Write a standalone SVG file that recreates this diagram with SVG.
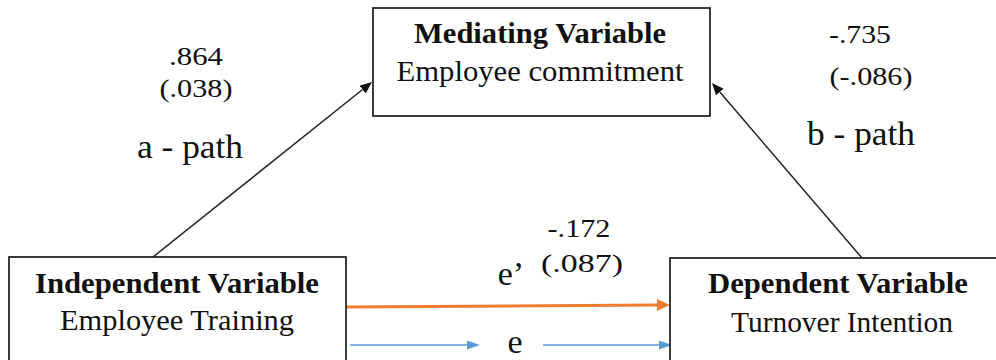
<svg xmlns="http://www.w3.org/2000/svg" width="996" height="360" viewBox="0 0 996 360">
<style>
.box{fill:#fff;stroke:#1a1a1a;stroke-width:1.7}
.t{font-family:'Liberation Serif','Times New Roman',serif;fill:#111;text-anchor:middle}
.b{font-weight:bold;font-size:28.5px}
.r{font-size:28.5px}
.n{font-size:26px}
.p{font-size:34px}
.blk{stroke:#222;stroke-width:1.5;fill:none}
.org{stroke:#ED7D31;stroke-width:3;fill:none}
.blu{stroke:#5B9BD5;stroke-width:1.6;fill:none}
</style>
<defs>
<marker id="ab" markerUnits="userSpaceOnUse" markerWidth="14" markerHeight="12" refX="0" refY="5" orient="auto"><path d="M0,0 L12,5 L0,10 z" fill="#111"/></marker>
<marker id="ao" markerUnits="userSpaceOnUse" markerWidth="15" markerHeight="13" refX="0" refY="6" orient="auto"><path d="M0,0 L13,6 L0,12 z" fill="#ED7D31"/></marker>
<marker id="al" markerUnits="userSpaceOnUse" markerWidth="15" markerHeight="11" refX="0" refY="4.5" orient="auto"><path d="M0,0 L13,4.5 L0,9 z" fill="#5B9BD5"/></marker>
</defs>
<g id="connectors">
<line class="blk" x1="153" y1="257" x2="362.6" y2="89.5" marker-end="url(#ab)"/>
<line class="blk" x1="862" y1="258" x2="719.8" y2="92.1" marker-end="url(#ab)"/>
<line class="org" x1="346" y1="307" x2="657" y2="305" marker-end="url(#ao)"/>
<line class="blu" x1="350" y1="345" x2="467" y2="345" marker-end="url(#al)"/>
<line class="blu" x1="543" y1="345" x2="659" y2="345" marker-end="url(#al)"/>
</g>
<g id="mediating">
<rect class="box" x="373" y="8" width="337" height="108"/>
<text class="t b" x="540" y="43" textLength="252" lengthAdjust="spacingAndGlyphs">Mediating Variable</text>
<text class="t r" x="540" y="81" textLength="287" lengthAdjust="spacingAndGlyphs">Employee commitment</text>
</g>
<g id="independent">
<rect class="box" x="9" y="257" width="337" height="120"/>
<text class="t b" x="177" y="293" textLength="284" lengthAdjust="spacingAndGlyphs">Independent Variable</text>
<text class="t r" x="177" y="330" textLength="234" lengthAdjust="spacingAndGlyphs">Employee Training</text>
</g>
<g id="dependent">
<rect class="box" x="670" y="258" width="340" height="120"/>
<text class="t b" x="838" y="293" textLength="260" lengthAdjust="spacingAndGlyphs">Dependent Variable</text>
<text class="t r" x="842" y="332" textLength="222" lengthAdjust="spacingAndGlyphs">Turnover Intention</text>
</g>
<g id="labels">
<text class="t n" x="196" y="65" textLength="54" lengthAdjust="spacingAndGlyphs">.864</text>
<text class="t n" x="196" y="97" textLength="73" lengthAdjust="spacingAndGlyphs">(.038)</text>
<text class="t p" x="190" y="158" textLength="106" lengthAdjust="spacingAndGlyphs">a - path</text>
<text class="t n" x="860" y="43" textLength="62" lengthAdjust="spacingAndGlyphs">-.735</text>
<text class="t n" x="871" y="85" textLength="83" lengthAdjust="spacingAndGlyphs">(-.086)</text>
<text class="t p" x="861" y="145" textLength="108" lengthAdjust="spacingAndGlyphs">b - path</text>
<text class="t n" x="579" y="237" textLength="63" lengthAdjust="spacingAndGlyphs">-.172</text>
<text class="t n" x="582" y="272" textLength="82" lengthAdjust="spacingAndGlyphs">(.087)</text>
<text class="t p" x="511" y="285" font-size="32">e’</text>
<text class="t p" x="515" y="353" font-size="32">e</text>
</g>
</svg>
